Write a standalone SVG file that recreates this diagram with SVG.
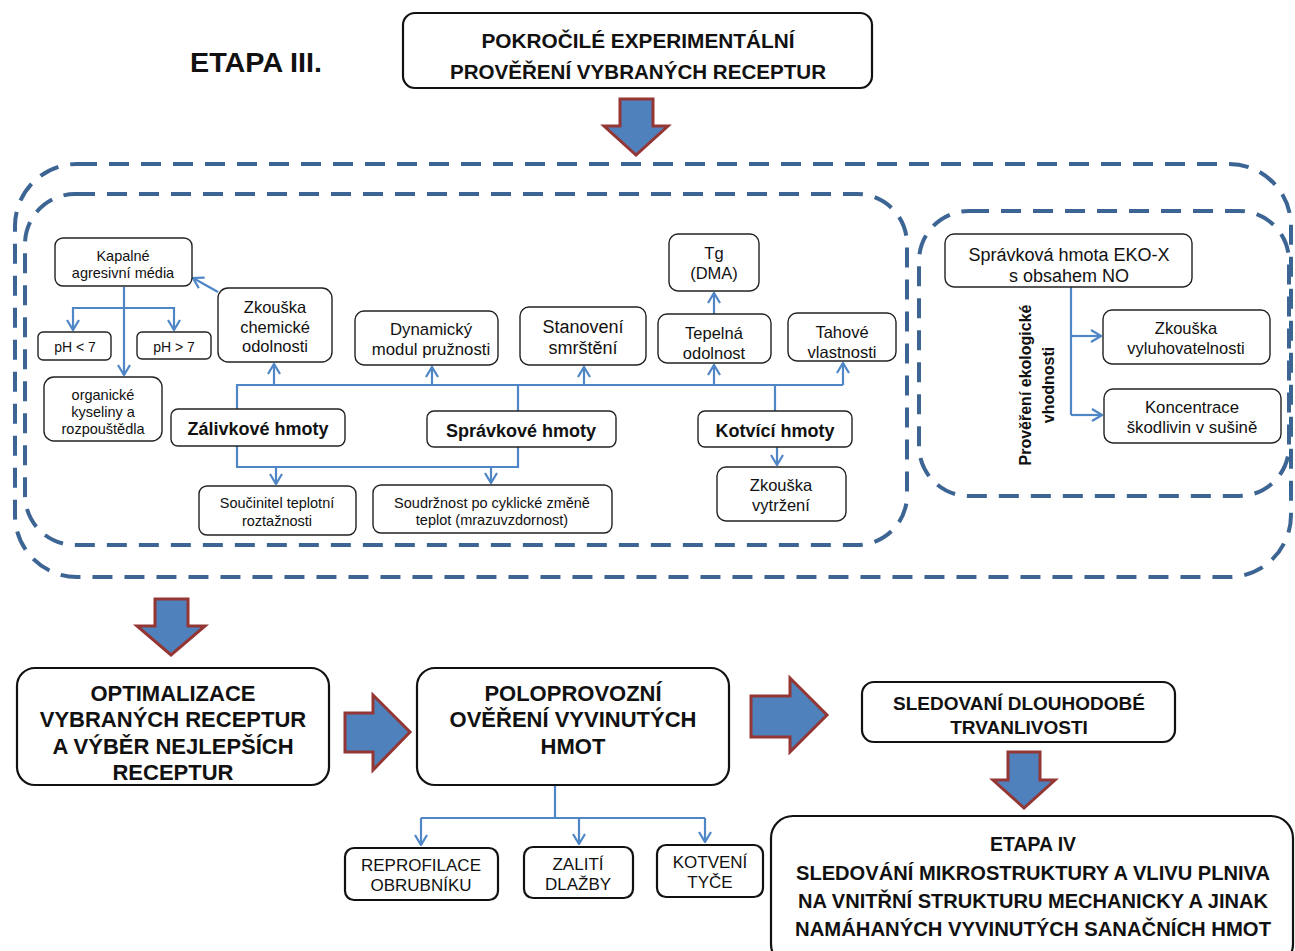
<svg xmlns="http://www.w3.org/2000/svg" width="1295" height="951" viewBox="0 0 1295 951">
<style>
.bg{fill:#ffffff}
.dash{fill:none;stroke:#3D6594;stroke-width:4;stroke-dasharray:20 12}
.n{fill:#ffffff;stroke:#222;stroke-width:1.4}
.b{fill:#ffffff;stroke:#111;stroke-width:2.2}
.t{font-family:"Liberation Sans",Arial,sans-serif;fill:#111;text-anchor:middle}
.bd{font-weight:bold}
.c{fill:none;stroke:#4F86C6;stroke-width:2.2}
.big{fill:#4F81BD;stroke:#943634;stroke-width:3;stroke-linejoin:miter}
</style>
<defs>
<marker id="ah" viewBox="0 0 12 14" refX="11" refY="7" markerWidth="12" markerHeight="14" markerUnits="userSpaceOnUse" orient="auto">
<path d="M1,1 L11,7 L1,13" fill="none" stroke="#4F86C6" stroke-width="2.2"/>
</marker>
</defs>
<rect class="bg" x="0" y="0" width="1295" height="951"/>

<g id="title">
<text class="t bd" x="256" y="72" font-size="27" textLength="132" lengthAdjust="spacingAndGlyphs">ETAPA III.</text>
</g>
<g id="top-box">
<rect class="b" x="403" y="13" width="469" height="75" rx="12"/>
<text class="t bd" x="638" y="48" font-size="21" textLength="313" lengthAdjust="spacingAndGlyphs">POKROČILÉ EXPERIMENTÁLNÍ</text>
<text class="t bd" x="638" y="79" font-size="21" textLength="376" lengthAdjust="spacingAndGlyphs">PROVĚŘENÍ VYBRANÝCH RECEPTUR</text>
</g>

<g id="big-arrows">
<path class="big" d="M620,99 L653,99 L653,126 L668,126 L636,155 L604,126 L620,126 Z"/>
<path class="big" d="M155,599 L188,599 L188,626 L205,626 L171,655 L137,626 L155,626 Z"/>
<path class="big" d="M345,713 L373,713 L373,695 L410,732 L373,770 L373,752 L345,752 Z"/>
<path class="big" d="M751,696 L790,696 L790,678 L827,715 L790,752 L790,737 L751,737 Z"/>
<path class="big" d="M1008,752 L1040,752 L1040,780 L1055,780 L1024,808 L993,780 L1008,780 Z"/>
</g>

<g id="containers">
<rect class="dash" x="15" y="164" width="1276" height="413" rx="62"/>
<rect class="dash" x="25" y="194" width="882" height="351" rx="50"/>
<rect class="dash" x="919" y="211" width="370" height="285" rx="50"/>
</g>

<g id="connectors">
<path class="c" d="M124,287 L124,375" marker-end="url(#ah)"/>
<path class="c" d="M124,308 L73,308 L73,330" marker-end="url(#ah)"/>
<path class="c" d="M124,308 L174,308 L174,330" marker-end="url(#ah)"/>
<path class="c" d="M218,292 L193,278" marker-end="url(#ah)"/>
<path class="c" d="M237,409 L237,385 L843,385"/>
<path class="c" d="M518,411 L518,385"/>
<path class="c" d="M775,411 L775,385"/>
<path class="c" d="M274,385 L274,364" marker-end="url(#ah)"/>
<path class="c" d="M432,385 L432,367" marker-end="url(#ah)"/>
<path class="c" d="M584,385 L584,367" marker-end="url(#ah)"/>
<path class="c" d="M714,385 L714,365" marker-end="url(#ah)"/>
<path class="c" d="M843,385 L843,363" marker-end="url(#ah)"/>
<path class="c" d="M714,314 L714,293" marker-end="url(#ah)"/>
<path class="c" d="M237,446 L237,467 L518,467 L518,447"/>
<path class="c" d="M276,467 L276,484" marker-end="url(#ah)"/>
<path class="c" d="M491,467 L491,483" marker-end="url(#ah)"/>
<path class="c" d="M777,447 L777,465" marker-end="url(#ah)"/>
<path class="c" d="M1071,287 L1071,415"/>
<path class="c" d="M1071,336 L1101,336" marker-end="url(#ah)"/>
<path class="c" d="M1071,415 L1102,415" marker-end="url(#ah)"/>
<path class="c" d="M555,785 L555,818"/>
<path class="c" d="M421,818 L705,818"/>
<path class="c" d="M421,818 L421,845" marker-end="url(#ah)"/>
<path class="c" d="M579,818 L579,844" marker-end="url(#ah)"/>
<path class="c" d="M705,818 L705,842" marker-end="url(#ah)"/>
</g>

<g id="n-kapalne">
<rect class="n" x="55" y="238" width="137" height="48" rx="8"/>
<text class="t" x="123" y="261" font-size="14.5">Kapalné</text>
<text class="t" x="123" y="278" font-size="14.5">agresivní média</text>
</g>
<g id="n-ph7l">
<rect class="n" x="38" y="332" width="73" height="28" rx="5"/>
<text class="t" x="75" y="352" font-size="14">pH &lt; 7</text>
</g>
<g id="n-ph7g">
<rect class="n" x="137" y="332" width="74" height="27" rx="5"/>
<text class="t" x="174" y="352" font-size="14">pH &gt; 7</text>
</g>
<g id="n-organicke">
<rect class="n" x="44" y="377" width="118" height="64" rx="10"/>
<text class="t" x="103" y="400" font-size="14.5">organické</text>
<text class="t" x="103" y="417" font-size="14.5">kyseliny a</text>
<text class="t" x="103" y="434" font-size="14.5">rozpouštědla</text>
</g>
<g id="n-chem">
<rect class="n" x="218" y="288" width="114" height="74" rx="10"/>
<text class="t" x="275" y="313" font-size="16.5">Zkouška</text>
<text class="t" x="275" y="333" font-size="16.5">chemické</text>
<text class="t" x="275" y="352" font-size="16.5">odolnosti</text>
</g>
<g id="n-dyn">
<rect class="n" x="355" y="311" width="143" height="54" rx="9"/>
<text class="t" x="431" y="335" font-size="16.8">Dynamický</text>
<text class="t" x="431" y="355" font-size="16.8">modul pružnosti</text>
</g>
<g id="n-smrst">
<rect class="n" x="520" y="307" width="126" height="58" rx="9"/>
<text class="t" x="583" y="333" font-size="18">Stanovení</text>
<text class="t" x="583" y="354" font-size="18">smrštění</text>
</g>
<g id="n-tg">
<rect class="n" x="669" y="234" width="90" height="57" rx="9"/>
<text class="t" x="714" y="259" font-size="16.5">Tg</text>
<text class="t" x="714" y="279" font-size="16.5">(DMA)</text>
</g>
<g id="n-tepel">
<rect class="n" x="658" y="314" width="113" height="49" rx="9"/>
<text class="t" x="714" y="339" font-size="16.5">Tepelná</text>
<text class="t" x="714" y="359" font-size="16.5">odolnost</text>
</g>
<g id="n-tah">
<rect class="n" x="788" y="313" width="108" height="48" rx="9"/>
<text class="t" x="842" y="338" font-size="16.5">Tahové</text>
<text class="t" x="842" y="358" font-size="16.5">vlastnosti</text>
</g>
<g id="n-zaliv">
<rect class="n" x="171" y="409" width="174" height="37" rx="7"/>
<text class="t bd" x="258" y="435" font-size="18">Zálivkové hmoty</text>
</g>
<g id="n-sprav">
<rect class="n" x="427" y="411" width="189" height="36" rx="7"/>
<text class="t bd" x="521" y="437" font-size="18">Správkové hmoty</text>
</g>
<g id="n-kotvici">
<rect class="n" x="698" y="411" width="154" height="36" rx="7"/>
<text class="t bd" x="775" y="437" font-size="18">Kotvící hmoty</text>
</g>
<g id="n-soucinitel">
<rect class="n" x="199" y="486" width="157" height="49" rx="8"/>
<text class="t" x="277" y="508" font-size="14.5">Součinitel teplotní</text>
<text class="t" x="277" y="526" font-size="14.5">roztažnosti</text>
</g>
<g id="n-soudrz">
<rect class="n" x="373" y="485" width="239" height="48" rx="8"/>
<text class="t" x="492" y="508" font-size="14.5">Soudržnost po cyklické změně</text>
<text class="t" x="492" y="525" font-size="14.5">teplot (mrazuvzdornost)</text>
</g>
<g id="n-vytrz">
<rect class="n" x="717" y="467" width="129" height="54" rx="9"/>
<text class="t" x="781" y="491" font-size="16.5">Zkouška</text>
<text class="t" x="781" y="511" font-size="16.5">vytržení</text>
</g>

<g id="n-eko">
<rect class="n" x="945" y="234" width="247" height="53" rx="9"/>
<text class="t" x="1069" y="261" font-size="18">Správková hmota EKO-X</text>
<text class="t" x="1069" y="282" font-size="18">s obsahem NO</text>
</g>
<g id="n-vyluh">
<rect class="n" x="1103" y="310" width="167" height="54" rx="9"/>
<text class="t" x="1186" y="334" font-size="16.5">Zkouška</text>
<text class="t" x="1186" y="354" font-size="16.5">vyluhovatelnosti</text>
</g>
<g id="n-konc">
<rect class="n" x="1104" y="389" width="177" height="54" rx="9"/>
<text class="t" x="1192" y="413" font-size="16.8">Koncentrace</text>
<text class="t" x="1192" y="433" font-size="16.8">škodlivin v sušině</text>
</g>
<g id="label-eko">
<text class="t bd" font-size="16" transform="translate(1031,385) rotate(-90)">Prověření ekologické</text>
<text class="t bd" font-size="16" transform="translate(1054,385) rotate(-90)">vhodnosti</text>
</g>

<g id="n-optim">
<rect class="b" x="17" y="668" width="312" height="117" rx="18"/>
<text class="t bd" x="173" y="701" font-size="22">OPTIMALIZACE</text>
<text class="t bd" x="173" y="727" font-size="22">VYBRANÝCH RECEPTUR</text>
<text class="t bd" x="173" y="754" font-size="22">A VÝBĚR NEJLEPŠÍCH</text>
<text class="t bd" x="173" y="780" font-size="22">RECEPTUR</text>
</g>
<g id="n-polo">
<rect class="b" x="417" y="668" width="312" height="117" rx="18"/>
<text class="t bd" x="573" y="701" font-size="22">POLOPROVOZNÍ</text>
<text class="t bd" x="573" y="727" font-size="22">OVĚŘENÍ VYVINUTÝCH</text>
<text class="t bd" x="573" y="754" font-size="22">HMOT</text>
</g>
<g id="n-sled">
<rect class="b" x="862" y="682" width="313" height="60" rx="12"/>
<text class="t bd" x="1019" y="710" font-size="19">SLEDOVANÍ DLOUHODOBÉ</text>
<text class="t bd" x="1019" y="734" font-size="19">TRVANLIVOSTI</text>
</g>
<g id="n-etapa4">
<rect class="b" x="771" y="816" width="522" height="150" rx="22"/>
<text class="t bd" x="1033" y="851" font-size="20" textLength="86" lengthAdjust="spacingAndGlyphs">ETAPA IV</text>
<text class="t bd" x="1033" y="880" font-size="20" textLength="474" lengthAdjust="spacingAndGlyphs">SLEDOVÁNÍ MIKROSTRUKTURY  A VLIVU PLNIVA</text>
<text class="t bd" x="1033" y="908" font-size="20" textLength="470" lengthAdjust="spacingAndGlyphs">NA VNITŘNÍ STRUKTURU MECHANICKY A JINAK</text>
<text class="t bd" x="1033" y="936" font-size="20" textLength="476" lengthAdjust="spacingAndGlyphs">NAMÁHANÝCH VYVINUTÝCH SANAČNÍCH HMOT</text>
</g>
<g id="n-reprof">
<rect class="b" x="345" y="848" width="153" height="52" rx="9"/>
<text class="t" x="421" y="871" font-size="17">REPROFILACE</text>
<text class="t" x="421" y="891" font-size="17">OBRUBNÍKU</text>
</g>
<g id="n-zaliti">
<rect class="b" x="524" y="847" width="109" height="51" rx="9"/>
<text class="t" x="578" y="870" font-size="17">ZALITÍ</text>
<text class="t" x="578" y="890" font-size="17">DLAŽBY</text>
</g>
<g id="n-kotveni">
<rect class="b" x="657" y="845" width="106" height="52" rx="9"/>
<text class="t" x="710" y="868" font-size="17">KOTVENÍ</text>
<text class="t" x="710" y="888" font-size="17">TYČE</text>
</g>
</svg>
